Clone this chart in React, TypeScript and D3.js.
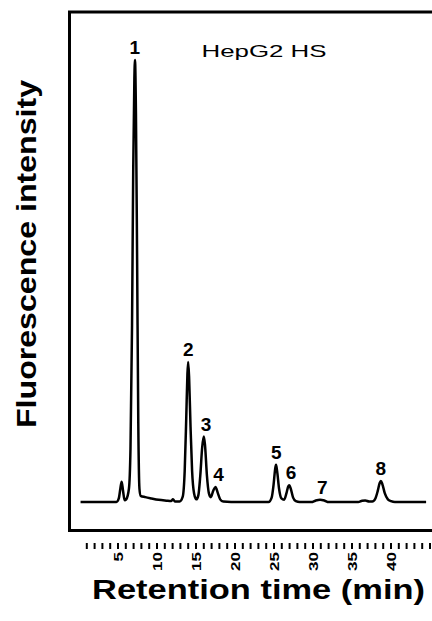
import React from "react";
import * as d3 from "d3";

const width = 432;
const height = 621;

// chromatogram trace: [retention time (min), intensity]
const trace: [number, number][] = [
  [0.2, 0], [4.8, 0], [5.1, 0.8], [5.3, 3], [5.47, 4.6], [5.65, 2.5], [5.85, 0.4],
  [6.05, 0.6], [6.4, 3], [6.6, 12], [6.8, 40], [6.95, 75], [7.1, 96], [7.18, 100],
  [7.3, 88], [7.45, 55], [7.6, 18], [7.75, 3], [7.9, 1.4], [8.5, 1.1], [9.3, 0.8],
  [10.2, 0.5], [11.2, 0.3], [11.8, 0.2], [12.05, 0.6], [12.3, 0.1], [12.9, 0.1],
  [13.3, 1.2], [13.55, 7], [13.75, 19], [13.9, 29], [14.0, 31.7], [14.12, 28],
  [14.3, 17], [14.5, 7], [14.75, 2], [15.05, 0.6], [15.3, 1.5], [15.55, 6],
  [15.8, 12.5], [16.0, 14.8], [16.15, 13], [16.4, 6], [16.65, 2], [16.9, 1.1],
  [17.2, 2.5], [17.5, 3.4], [17.8, 2], [18.1, 0.6], [18.5, 0.1], [19.5, 0],
  [24.3, 0], [24.7, 1], [24.95, 4], [25.15, 7.5], [25.26, 8.4], [25.4, 7],
  [25.65, 3], [25.95, 0.8], [26.3, 0.5], [26.6, 2], [26.82, 3.5], [26.96, 3.8],
  [27.15, 3], [27.45, 1], [27.8, 0.2], [28.3, 0], [29.8, 0], [30.3, 0.3],
  [30.9, 0.5], [31.5, 0.3], [32.0, 0], [35.8, 0], [36.3, 0.3], [36.7, 0.35],
  [37.2, 0.1], [37.6, 0.1], [38.0, 0.8], [38.3, 2.5], [38.55, 4.3], [38.7, 4.75],
  [38.9, 4], [39.2, 2], [39.6, 0.6], [40.0, 0.2], [40.5, 0], [44.5, 0],
];

const peakNames = ["1", "2", "3", "4", "5", "6", "7", "8"];
const peakLabelTimes = [7.15, 14.0, 16.3, 17.9, 25.3, 27.2, 31.2, 38.7];
const peakHeights = [100, 31.7, 14.8, 3.4, 8.4, 3.8, 0.5, 4.75];

const minorTicks = d3.range(1, 46);
const tickLabels = [5, 10, 15, 20, 25, 30, 35, 40];

const xScale = d3.scaleLinear().domain([0, 45]).range([79, 430]);
const yScale = d3.scaleLinear().domain([0, 100]).range([502, 60]);

const line = d3
  .line<[number, number]>()
  .x(d => xScale(d[0]))
  .y(d => yScale(d[1]))
  .curve(d3.curveMonotoneX);

const font = "'Liberation Sans', Arial, sans-serif";

export default function App() {
  return (
    <svg
      width={width}
      height={height}
      style={{ position: "absolute", left: 0, top: 0, background: "#fff" }}
    >
      {/* frame, right side runs off the picture */}
      <rect x={69.5} y={12} width={400} height={518.5} fill="none" stroke="#000" strokeWidth={3} />

      <path d={line(trace) || ""} fill="none" stroke="#000" strokeWidth={2.5} strokeLinejoin="round" />

      {peakNames.map((n, i) => (
        <text
          key={n}
          x={xScale(peakLabelTimes[i])}
          y={yScale(peakHeights[i]) - 6}
          textAnchor="middle"
          fontFamily={font}
          fontWeight="bold"
          fontSize={19}
        >
          {n}
        </text>
      ))}

      <text x={201.5} y={56.5} fontFamily={font} fontSize={16.5} textLength={125} lengthAdjust="spacingAndGlyphs">
        HepG2 HS
      </text>

      {/* x axis: ticks below the frame */}
      <g>
        {minorTicks.map(t => (
          <line key={t} x1={xScale(t)} x2={xScale(t)} y1={543} y2={549} stroke="#000" strokeWidth={2} />
        ))}
        {tickLabels.map(t => (
          <text
            key={t}
            transform={`translate(${xScale(t) + 4.5},552) rotate(-90)`}
            textAnchor="end"
            fontFamily={font}
            fontWeight="bold"
            fontSize={13}
            textLength={String(t).length * 9.5}
            lengthAdjust="spacingAndGlyphs"
          >
            {t}
          </text>
        ))}
      </g>

      <text
        x={92}
        y={599}
        fontFamily={font}
        fontWeight="bold"
        fontSize={27}
        textLength={333}
        lengthAdjust="spacingAndGlyphs"
      >
        Retention time (min)
      </text>

      <text
        transform={`translate(36,428) rotate(-90)`}
        fontFamily={font}
        fontWeight="bold"
        fontSize={28}
        textLength={348}
        lengthAdjust="spacingAndGlyphs"
      >
        Fluorescence intensity
      </text>
    </svg>
  );
}
